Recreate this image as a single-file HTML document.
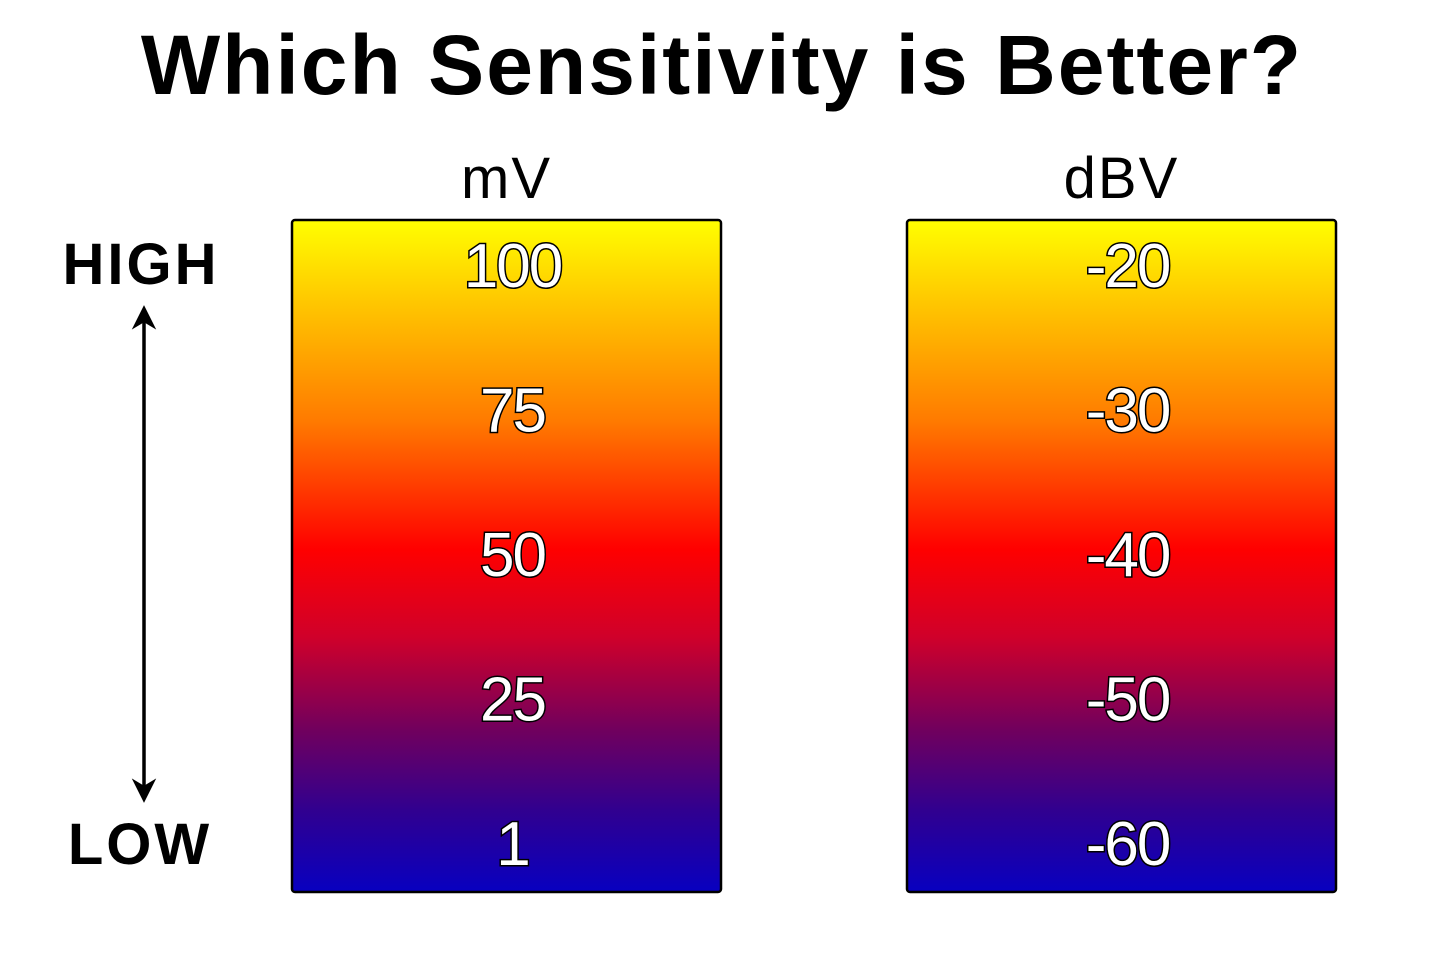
<!DOCTYPE html>
<html><head><meta charset="utf-8"><style>
html,body{margin:0;padding:0;background:#fff;width:1440px;height:960px;overflow:hidden}
svg text{font-family:"Liberation Sans",sans-serif}
</style></head><body>
<svg width="1440" height="960" viewBox="0 0 1440 960">
<defs>
<linearGradient id="heat" x1="0" y1="0" x2="0" y2="1">
<stop offset="0" stop-color="#ffff00"/>
<stop offset="0.12" stop-color="#ffc800"/>
<stop offset="0.3" stop-color="#ff7a00"/>
<stop offset="0.49" stop-color="#ff0000"/>
<stop offset="0.62" stop-color="#d0002a"/>
<stop offset="0.76" stop-color="#70005e"/>
<stop offset="0.88" stop-color="#300090"/>
<stop offset="1" stop-color="#0800c0"/>
</linearGradient>
<marker id="ah" viewBox="0 0 10 10" refX="8" refY="5" markerWidth="7" markerHeight="9" orient="auto-start-reverse"><path d="M0,0 L10,5 L0,10 L3,5 Z" fill="#000"/></marker>
</defs>
<text x="722" y="94" text-anchor="middle" font-size="84" font-weight="bold" letter-spacing="2" fill="#000">Which Sensitivity is Better?</text>
<text x="141" y="284" text-anchor="middle" font-size="58" letter-spacing="3" font-weight="bold" fill="#000">HIGH</text>
<text x="140" y="864" text-anchor="middle" font-size="58" letter-spacing="3" font-weight="bold" fill="#000">LOW</text>
<line x1="144" y1="310" x2="144" y2="798" stroke="#000" stroke-width="3.5" marker-start="url(#ah)" marker-end="url(#ah)"/>
<g id="cols"></g>
</svg>
<script>
const columnTitles = ["mV", "dBV"];
const mvValues = ["100", "75", "50", "25", "1"];
const dbvValues = ["-20", "-30", "-40", "-50", "-60"];
const series = [mvValues, dbvValues];
const NS = "http://www.w3.org/2000/svg";
const colsG = document.getElementById("cols");
const colX = i => 292 + i * 615, colW = 429, boxTop = 220, boxBot = 892;
const rowY = (j, n) => 265 + j * (843 - 265) / (n - 1);
series.forEach((vals, i) => {
  const x = colX(i);
  const r = document.createElementNS(NS, "rect");
  
  
  r.setAttribute("x", x); r.setAttribute("y", boxTop); r.setAttribute("width", colW); r.setAttribute("height", boxBot - boxTop);
  r.setAttribute("rx", 3); r.setAttribute("fill", "url(#heat)"); r.setAttribute("stroke", "#000"); r.setAttribute("stroke-width", 2.5);
  colsG.appendChild(r);
  const t = document.createElementNS(NS, "text");
  
  
  t.setAttribute("x", x + colW / 2); t.setAttribute("y", 198); t.setAttribute("text-anchor", "middle");
  t.setAttribute("font-size", "58"); t.setAttribute("letter-spacing", "2"); t.textContent = columnTitles[i];
  colsG.appendChild(t);
  vals.forEach((v, j) => {
    const l = document.createElementNS(NS, "text");
    
    
    l.setAttribute("x", x + colW / 2 + 6); l.setAttribute("y", rowY(j, vals.length) + 22);
    l.setAttribute("text-anchor", "middle"); l.setAttribute("font-size", "62");
    l.setAttribute("fill", "#fff"); l.setAttribute("stroke", "#000"); l.setAttribute("stroke-width", "3");
    l.setAttribute("paint-order", "stroke"); l.setAttribute("letter-spacing", "-2");
    l.textContent = v;
    colsG.appendChild(l);
  });
});
</script>
</body></html>
